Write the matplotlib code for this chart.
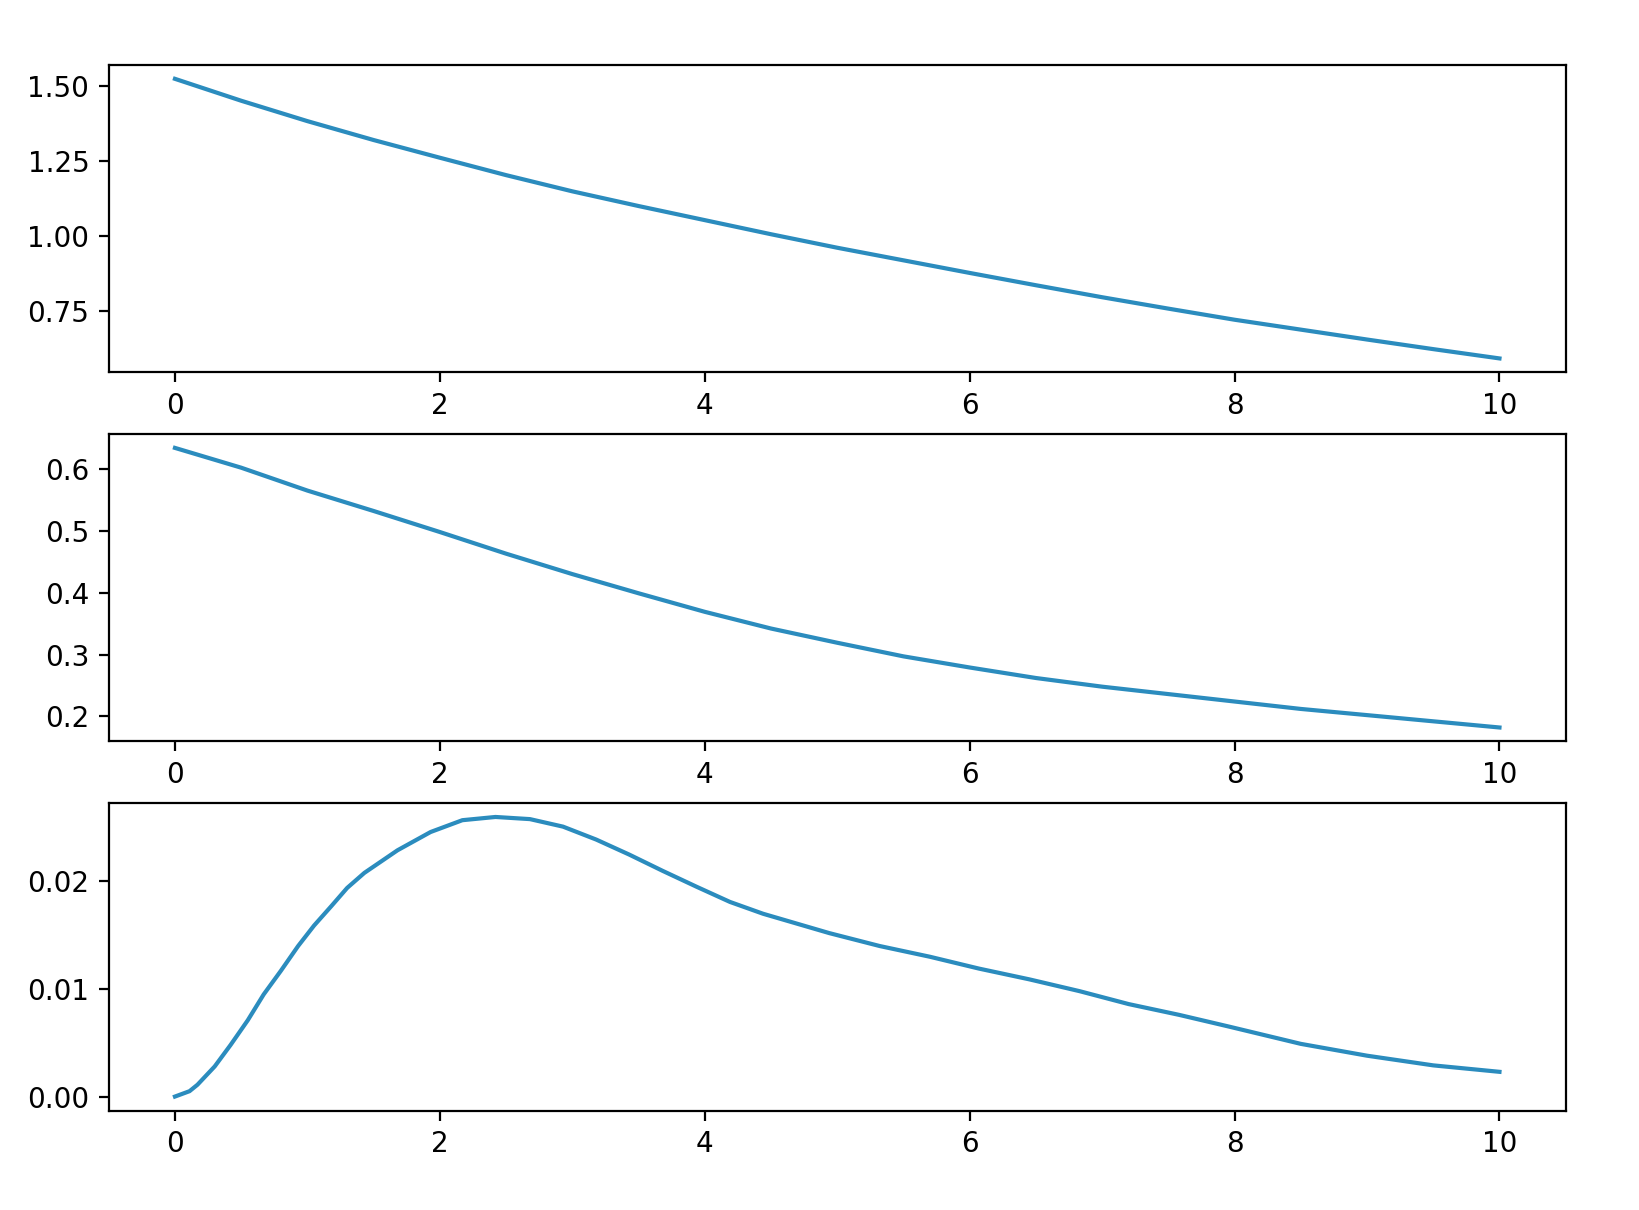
import matplotlib
matplotlib.use("Agg")
import matplotlib.pyplot as plt

# Top panel
x_top = [0, 0.5, 1, 1.5, 2, 2.5, 3, 3.5, 4, 4.5, 5, 5.5, 6, 6.5, 7, 7.5, 8, 8.5, 9, 9.5, 10]
y_top = [1.524, 1.451, 1.383, 1.320, 1.261, 1.203, 1.149, 1.100, 1.053, 1.006, 0.961,
         0.919, 0.877, 0.836, 0.796, 0.758, 0.721, 0.688, 0.655, 0.623, 0.592]

# Middle panel
x_mid = [0, 0.5, 1, 1.5, 2, 2.5, 3, 3.5, 4, 4.5, 5, 5.5, 6, 6.5, 7, 7.5, 8, 8.5, 9, 9.5, 10]
y_mid = [0.634, 0.602, 0.565, 0.532, 0.498, 0.463, 0.430, 0.399, 0.369, 0.342, 0.319,
         0.297, 0.279, 0.262, 0.248, 0.236, 0.224, 0.212, 0.202, 0.192, 0.182]

# Bottom panel
x_bot = [0, 0.11, 0.17, 0.30, 0.42, 0.55, 0.67, 0.80, 0.93, 1.05, 1.18, 1.30, 1.43, 1.68,
         1.93, 2.17, 2.42, 2.68, 2.93, 3.18, 3.43, 3.68, 3.94, 4.19, 4.44, 4.69, 4.94,
         5.32, 5.70, 6.07, 6.45, 6.83, 7.20, 7.58, 7.96, 8.5, 9.0, 9.5, 10.0]
y_bot = [0.0000, 0.0005, 0.0011, 0.0028, 0.0048, 0.0071, 0.0095, 0.0117, 0.0140, 0.0159,
         0.0177, 0.0194, 0.0208, 0.0229, 0.0246, 0.0257, 0.0260, 0.0258, 0.0251, 0.0239,
         0.0225, 0.0210, 0.0195, 0.0181, 0.0170, 0.0161, 0.0152, 0.0140, 0.0130, 0.0119,
         0.0109, 0.0098, 0.0086, 0.0076, 0.0065, 0.0049, 0.0038, 0.0029, 0.0023]

line_color = "#2b8cbe"

fig, axes = plt.subplots(3, 1, figsize=(8.2, 6.05), dpi=200)
fig.subplots_adjust(left=0.0663, right=0.9547, top=0.9464, bottom=0.0822, hspace=0.2)

for ax, xs, ys in zip(axes, [x_top, x_mid, x_bot], [y_top, y_mid, y_bot]):
    ax.plot(xs, ys, color=line_color, linewidth=1.5)
    ax.set_xticks([0, 2, 4, 6, 8, 10])

axes[0].set_yticks([0.75, 1.00, 1.25, 1.50])
axes[1].set_yticks([0.2, 0.3, 0.4, 0.5, 0.6])
axes[2].set_yticks([0.00, 0.01, 0.02])

fig.savefig("out.png", dpi=200)
